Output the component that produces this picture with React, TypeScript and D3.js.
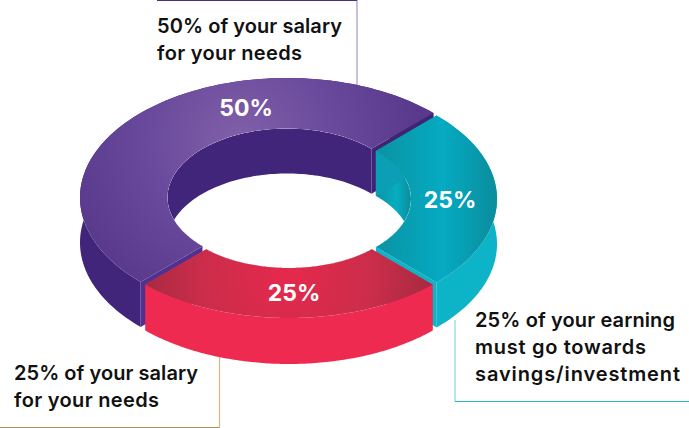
import React from "react";
import * as d3 from "d3";

const shares = [50, 25, 25];
const names = ["needs", "savings", "wants"];
const percentLabels = ["50%", "25%", "25%"];
const callouts = [
  ["50% of your salary", "for your needs"],
  ["25% of your earning", "must go towards", "savings/investment"],
  ["25% of your salary", "for your needs"],
];
const calloutWidths = [
  [185, 145],
  [200, 171, 205],
  [184, 145],
];

const W = 689, H = 428;
const FONT = "Inter, 'Open Sans', sans-serif";

type Geo = { cx: number; cy: number; rx: number; ry: number; irx: number; iry: number; depth: number };
const geos: Geo[] = [
  { cx: 287, cy: 197.5, rx: 207, ry: 119.5, irx: 119.5, iry: 69, depth: 45 },
  { cx: 291, cy: 199, rx: 206, ry: 118, irx: 120, iry: 68, depth: 45 },
  { cx: 289, cy: 204, rx: 203, ry: 114, irx: 117, iry: 64, depth: 46 },
];
const pal = [
  { top: "url(#gPurple)", wall: "#41257a", inner: "#41257a", endA: "#51318f", endB: "#3f2474" },
  { top: "url(#gTeal)", wall: "#0db3c6", inner: "url(#gTealIn)", endA: "#0a9fb4", endB: "#0db3c6" },
  { top: "url(#gRed)", wall: "#ef2a50", inner: "#ef2a50", endA: "#ef2a50", endB: "#ef2a50" },
];
const labelPos = [[246, 108], [450, 200], [294, 293]];
const calloutOrigins = [[157, 33], [475, 327], [14, 380]];

const pie = d3.pie<number>().sort(null).startAngle(-Math.PI * 0.75).endAngle(Math.PI * 1.25);
const arcs = pie(shares);

const pt = (g: Geo, a: number, inner: boolean, dy = 0): [number, number] => {
  const rx = inner ? g.irx : g.rx, ry = inner ? g.iry : g.ry;
  return [g.cx + rx * Math.sin(a), g.cy - ry * Math.cos(a) + dy];
};
const samples = (a0: number, a1: number) => d3.range(0, 121).map((i) => a0 + ((a1 - a0) * i) / 120);
const line = d3.line();

const topPath = (g: Geo, a0: number, a1: number) => {
  const s = samples(a0, a1);
  return line([...s.map((a) => pt(g, a, false)), ...[...s].reverse().map((a) => pt(g, a, true))]) + "Z";
};
const wallPath = (g: Geo, a0: number, a1: number, inner: boolean) => {
  const s = samples(a0, a1);
  return line([...s.map((a) => pt(g, a, inner)), ...[...s].reverse().map((a) => pt(g, a, inner, g.depth))]) + "Z";
};
const endPath = (g: Geo, a: number) =>
  line([pt(g, a, false), pt(g, a, true), pt(g, a, true, g.depth), pt(g, a, false, g.depth)]) + "Z";
const innerEllipse = (g: Geo) => line(samples(0, Math.PI * 2).map((a) => pt(g, a, true))) + "Z";

export default function App() {
  return (
    <svg width={W} height={H} viewBox={`0 0 ${W} ${H}`} style={{ position: "fixed", left: 0, top: 0, display: "block", background: "#fff" }}>
      <defs>
        <radialGradient id="gPurple" gradientUnits="userSpaceOnUse" cx={240} cy={140} r={180}>
          <stop offset="0" stopColor="#8160a9" />
          <stop offset="0.5" stopColor="#6a4a9c" />
          <stop offset="1" stopColor="#58398c" />
        </radialGradient>
        <linearGradient id="gTeal" gradientUnits="userSpaceOnUse" x1={377} x2={497} y1={0} y2={0}>
          <stop offset="0" stopColor="#0a93a3" />
          <stop offset="0.55" stopColor="#05aac2" />
          <stop offset="1" stopColor="#0a8d9c" />
        </linearGradient>
        <linearGradient id="gTealIn" gradientUnits="userSpaceOnUse" x1={377} x2={410} y1={0} y2={0}>
          <stop offset="0" stopColor="#0c95a3" />
          <stop offset="0.6" stopColor="#06adc2" />
          <stop offset="1" stopColor="#0a8f9e" />
        </linearGradient>
        <radialGradient id="gRed" gradientUnits="userSpaceOnUse" cx={287} cy={278} r={140}>
          <stop offset="0" stopColor="#e5294d" />
          <stop offset="0.6" stopColor="#cc2d4a" />
          <stop offset="1" stopColor="#aa2a42" />
        </radialGradient>
        {geos.map((g, i) => (
          <clipPath key={i} id={`in${i}`}><path d={innerEllipse(g)} /></clipPath>
        ))}
      </defs>

      {/* leader lines */}
      <path d="M357 0V85" fill="none" stroke="#a593c5" strokeWidth={1.2} />
      <path d="M157 0.5H357" fill="none" stroke="#4b2e86" strokeWidth={1} />
      <path d="M455 320V401.5" fill="none" stroke="#7fd8e2" strokeWidth={1.2} />
      <path d="M455 401.5H689" fill="none" stroke="#2fb4c8" strokeWidth={1} />
      <path d="M219.5 355V427.5" fill="none" stroke="#cdb985" strokeWidth={1.2} />
      <path d="M0 427.5H219.5" fill="none" stroke="#a98f4a" strokeWidth={1} />

      {arcs.map((d, i) => {
        const g = geos[i], c = pal[i];
        return (
          <g key={names[i]}>
            <path d={wallPath(g, d.startAngle, d.endAngle, true)} fill={c.inner} clipPath={`url(#in${i})`} />
            <path d={wallPath(g, d.startAngle, d.endAngle, false)} fill={c.wall} />
            <path d={endPath(g, d.startAngle)} fill={c.endA} />
            <path d={endPath(g, d.endAngle)} fill={c.endB} />
            <path d={topPath(g, d.startAngle, d.endAngle)} fill={c.top} />
          </g>
        );
      })}

      {percentLabels.map((t, i) => (
        <text key={i} x={labelPos[i][0]} y={labelPos[i][1]} textAnchor="middle" dominantBaseline="central"
          fill="#fff" fontFamily={FONT} fontWeight={700} fontSize={23}>{t}</text>
      ))}

      <g fontFamily={FONT} fontWeight={600} fontSize={20} fill="#111">
        {callouts.map((lines, k) =>
          lines.map((t, i) => (
            <text key={`${k}-${i}`} x={calloutOrigins[k][0]} y={calloutOrigins[k][1] + i * 27}
              textLength={calloutWidths[k][i]} lengthAdjust="spacing">{t}</text>
          ))
        )}
      </g>
    </svg>
  );
}
